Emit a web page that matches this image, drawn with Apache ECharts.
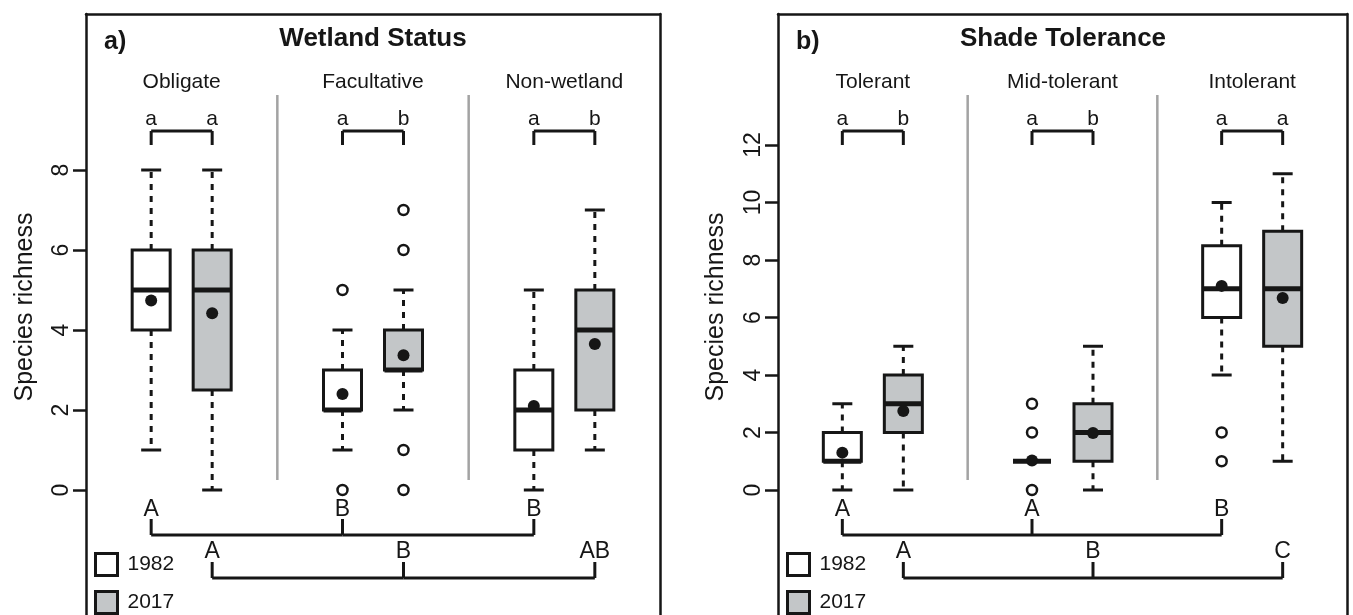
<!DOCTYPE html>
<html>
<head>
<meta charset="utf-8">
<style>
  html, body { margin: 0; padding: 0; background: #fff; }
  #chart { width: 1353px; height: 615px; }
</style>
<script src="https://cdn.jsdelivr.net/npm/echarts@6/dist/echarts.min.js"></script>
</head>
<body>
<div id="chart"></div>
<script>
// --- a) wetland status ---
const wetCats = ['Obligate', 'Facultative', 'Non-wetland'];
// [min, q1, median, q3, max]
const wetBox82 = [[1, 4, 5, 6, 8], [1, 2, 2, 3, 4], [0, 1, 2, 3, 5]];
const wetBox17 = [[0, 2.5, 5, 6, 8], [2, 3, 3, 4, 5], [1, 2, 4, 5, 7]];
const wetMean82 = [4.74, 2.4, 2.1];
const wetMean17 = [4.42, 3.37, 3.65];
const wetOut82 = [[1, 5], [1, 0]];
const wetOut17 = [[1, 7], [1, 6], [1, 1], [1, 0]];
const wetPair = [['a', 'a'], ['a', 'b'], ['a', 'b']];
const wetRank82 = ['A', 'B', 'B'];
const wetRank17 = ['A', 'B', 'AB'];
const wetTicks = [0, 2, 4, 6, 8];

// --- b) shade tolerance ---
const shadeCats = ['Tolerant', 'Mid-tolerant', 'Intolerant'];
const shadeBox82 = [[0, 1, 1, 2, 3], [1, 1, 1, 1, 1], [4, 6, 7, 8.5, 10]];
const shadeBox17 = [[0, 2, 3, 4, 5], [0, 1, 2, 3, 5], [1, 5, 7, 9, 11]];
const shadeMean82 = [1.3, 1.03, 7.1];
const shadeMean17 = [2.75, 1.98, 6.68];
const shadeOut82 = [[1, 3], [1, 2], [1, 0], [2, 2], [2, 1]];
const shadeOut17 = [];
const shadePair = [['a', 'b'], ['a', 'b'], ['a', 'a']];
const shadeRank82 = ['A', 'A', 'B'];
const shadeRank17 = ['A', 'B', 'C'];
const shadeTicks = [0, 2, 4, 6, 8, 10, 12];

const FONT = '"Liberation Sans", Arial, sans-serif';
const INK = '#161616';
const GREY = '#c3c6c8';
const SHIFT = 30.5;   // half distance between the two years in a group
const HALF = 19;      // half box width

const chart = echarts.init(document.getElementById('chart'));

function drawBox(fill, shift) {
    return function (params, api) {
        const i = api.value(0);
        const x = api.coord([i, 0])[0] + shift;
        const y = (v) => api.coord([i, v])[1];
        const lo = api.value(1), q1 = api.value(2), med = api.value(3);
        const q3 = api.value(4), hi = api.value(5), mean = api.value(6);
        const dash = { stroke: INK, lineWidth: 3, lineDash: [6, 6] };
        const solid = { stroke: INK, lineWidth: 3 };
        const kids = [];
        if (hi > q3) {
            kids.push({ type: 'line', shape: { x1: x, y1: y(q3), x2: x, y2: y(hi) }, style: dash });
            kids.push({ type: 'line', shape: { x1: x - 10, y1: y(hi), x2: x + 10, y2: y(hi) }, style: solid });
        }
        if (lo < q1) {
            kids.push({ type: 'line', shape: { x1: x, y1: y(q1), x2: x, y2: y(lo) }, style: dash });
            kids.push({ type: 'line', shape: { x1: x - 10, y1: y(lo), x2: x + 10, y2: y(lo) }, style: solid });
        }
        kids.push({
            type: 'rect',
            shape: { x: x - HALF, y: y(q3), width: HALF * 2, height: y(q1) - y(q3) },
            style: { fill: fill, stroke: INK, lineWidth: 3 }
        });
        kids.push({ type: 'line', shape: { x1: x - HALF, y1: y(med), x2: x + HALF, y2: y(med) }, style: { stroke: INK, lineWidth: 5 } });
        kids.push({ type: 'circle', shape: { cx: x, cy: y(mean), r: 6 }, style: { fill: INK } });
        return { type: 'group', children: kids };
    };
}

function drawOutlier(shift) {
    return function (params, api) {
        const c = api.coord([api.value(0), api.value(1)]);
        return {
            type: 'circle',
            shape: { cx: c[0] + shift, cy: c[1], r: 5 },
            style: { fill: 'none', stroke: INK, lineWidth: 2.5 }
        };
    };
}

function drawDivider(params, api) {
    const i = api.value(0);
    const bw = api.size([1, 0])[0];
    const p = api.coord([i, 0]);
    return {
        type: 'line',
        shape: { x1: p[0] + bw / 2, y1: params.coordSys.y + 81, x2: p[0] + bw / 2, y2: p[1] - 10 },
        style: { stroke: '#a3a3a3', lineWidth: 2.5 }
    };
}

function txt(text, x, y, size) {
    return {
        type: 'text',
        style: { text: text, x: x, y: y, fill: INK, fontSize: size, fontFamily: FONT, align: 'center', verticalAlign: 'middle' }
    };
}

function seg(x1, y1, x2, y2) {
    return { type: 'line', shape: { x1: x1, y1: y1, x2: x2, y2: y2 }, style: { stroke: INK, lineWidth: 3 } };
}

function drawLetters(pairs, rank82, rank17) {
    return function (params, api) {
        const i = api.value(0);
        const p = api.coord([i, 0]);
        const xa = p[0] - SHIFT, xb = p[0] + SHIFT;
        const top = params.coordSys.y;
        const zero = p[1];
        const kids = [];
        // within-group comparison
        kids.push(txt(pairs[i][0], xa, top + 105, 21));
        kids.push(txt(pairs[i][1], xb, top + 105, 21));
        kids.push(seg(xa, top + 117, xb, top + 117));
        kids.push(seg(xa, top + 117, xa, top + 131));
        kids.push(seg(xb, top + 117, xb, top + 131));
        // among-group comparison, 1982 row then 2017 row
        kids.push(txt(rank82[i], xa, zero + 20, 23));
        kids.push(seg(xa, zero + 29, xa, zero + 45));
        kids.push(txt(rank17[i], xb, zero + 62, 23));
        kids.push(seg(xb, zero + 72, xb, zero + 88));
        if (i < pairs.length - 1) {
            const nx = api.coord([i + 1, 0])[0];
            kids.push(seg(xa, zero + 45, nx - SHIFT, zero + 45));
            kids.push(seg(xb, zero + 88, nx + SHIFT, zero + 88));
        }
        return { type: 'group', children: kids };
    };
}

function panelSeries(p, cats, box82, box17, mean82, mean17, out82, out17, pair, rank82, rank17) {
    const common = { type: 'custom', xAxisIndex: p, yAxisIndex: p, silent: true };
    return [
        Object.assign({}, common, {
            renderItem: drawDivider, z: 1,
            data: cats.slice(1).map((c, i) => [i, 0])
        }),
        Object.assign({}, common, {
            name: '1982', renderItem: drawBox('#ffffff', -SHIFT), z: 3,
            itemStyle: { color: '#ffffff', borderColor: INK, borderWidth: 3 },
            data: box82.map((b, i) => [i].concat(b, [mean82[i]]))
        }),
        Object.assign({}, common, {
            name: '2017', renderItem: drawBox(GREY, SHIFT), z: 3,
            itemStyle: { color: GREY, borderColor: INK, borderWidth: 3 },
            data: box17.map((b, i) => [i].concat(b, [mean17[i]]))
        }),
        Object.assign({}, common, {
            name: '1982', renderItem: drawOutlier(-SHIFT), z: 3,
            itemStyle: { color: '#ffffff', borderColor: INK, borderWidth: 3 },
            data: out82
        }),
        Object.assign({}, common, {
            name: '2017', renderItem: drawOutlier(SHIFT), z: 3,
            itemStyle: { color: GREY, borderColor: INK, borderWidth: 3 },
            data: out17
        }),
        Object.assign({}, common, {
            renderItem: drawLetters(pair, rank82, rank17), z: 4,
            data: cats.map((c, i) => [i, 0])
        })
    ];
}

// the frame is made of axis lines: top x axis, left y axis, right y axis (open at the bottom)
function xAxisFor(p, cats) {
    return {
        type: 'category', gridIndex: p, data: cats, position: 'top',
        axisLine: { show: true, onZero: false, lineStyle: { color: INK, width: 2.5 } },
        axisTick: { show: false }, splitLine: { show: false },
        axisLabel: { inside: true, margin: 58, fontSize: 21, fontFamily: FONT, color: INK }
    };
}

function yAxisFor(p, min, max, ticks) {
    return {
        type: 'value', gridIndex: p, min: min, max: max,
        axisLine: { show: true, onZero: false, lineStyle: { color: INK, width: 2.5 } },
        axisTick: { show: true, length: 13, customValues: ticks, lineStyle: { color: INK, width: 2.5 } },
        axisLabel: { customValues: ticks, rotate: 90, margin: 13, fontSize: 23, fontFamily: FONT, color: INK },
        splitLine: { show: false }
    };
}

function rightEdge(p) {
    return {
        type: 'value', gridIndex: p, position: 'right',
        axisLine: { show: true, onZero: false, lineStyle: { color: INK, width: 2.5 } },
        axisTick: { show: false }, axisLabel: { show: false }, splitLine: { show: false }
    };
}

function legendFor(left) {
    return {
        orient: 'vertical', left: left, top: 552, padding: 0,
        itemWidth: 22, itemHeight: 22, itemGap: 13,
        selectedMode: false,
        textStyle: { fontSize: 21, fontFamily: FONT, color: INK, padding: [0, 0, 0, 5] },
        data: [
            { name: '1982', icon: 'rect', itemStyle: { color: '#ffffff', borderColor: INK, borderWidth: 3 } },
            { name: '2017', icon: 'rect', itemStyle: { color: GREY, borderColor: INK, borderWidth: 3 } }
        ]
    };
}

const option = {
    backgroundColor: '#ffffff',
    animation: false,
    grid: [
        { left: 86, top: 14, width: 574, bottom: 0 },
        { left: 778, top: 14, width: 569, bottom: 0 }
    ],
    xAxis: [xAxisFor(0, wetCats), xAxisFor(1, shadeCats)],
    yAxis: [
        yAxisFor(0, -3.125, 11.9, wetTicks),
        yAxisFor(1, -4.348, 16.557, shadeTicks),
        rightEdge(0),
        rightEdge(1)
    ],
    legend: [legendFor(94), legendFor(786)],
    graphic: [
        { type: 'text', x: 104, y: 42, style: { text: 'a)', font: 'bold 25px ' + FONT, fill: INK, verticalAlign: 'middle' } },
        { type: 'text', x: 373, y: 39, style: { text: 'Wetland Status', font: 'bold 26px ' + FONT, fill: INK, align: 'center', verticalAlign: 'middle' } },
        { type: 'text', x: 796, y: 42, style: { text: 'b)', font: 'bold 25px ' + FONT, fill: INK, verticalAlign: 'middle' } },
        { type: 'text', x: 1063, y: 39, style: { text: 'Shade Tolerance', font: 'bold 26px ' + FONT, fill: INK, align: 'center', verticalAlign: 'middle' } },
        { type: 'text', x: 25, y: 307, rotation: Math.PI / 2, style: { text: 'Species richness', font: '25px ' + FONT, fill: INK, align: 'center', verticalAlign: 'middle' } },
        { type: 'text', x: 716, y: 307, rotation: Math.PI / 2, style: { text: 'Species richness', font: '25px ' + FONT, fill: INK, align: 'center', verticalAlign: 'middle' } }
    ],
    series: [].concat(
        panelSeries(0, wetCats, wetBox82, wetBox17, wetMean82, wetMean17, wetOut82, wetOut17, wetPair, wetRank82, wetRank17),
        panelSeries(1, shadeCats, shadeBox82, shadeBox17, shadeMean82, shadeMean17, shadeOut82, shadeOut17, shadePair, shadeRank82, shadeRank17)
    )
};

chart.setOption(option);
</script>
</body>
</html>
